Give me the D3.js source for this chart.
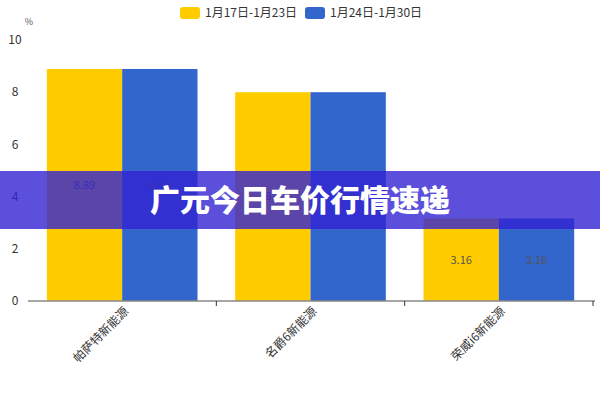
<!DOCTYPE html>
<html><head><meta charset="utf-8">
<script src="https://cdn.jsdelivr.net/npm/d3@7"></script>
<style>body{margin:0;background:#fff;} svg{display:block;font-family:"Noto Sans CJK SC","Noto Sans",sans-serif;}</style>
</head><body>
<svg id="c" width="600" height="400"></svg>
<script>
const categories = ["帕萨特新能源", "名爵6新能源", "荣威i6新能源"];
const seriesNames = ["1月17日-1月23日", "1月24日-1月30日"];
const series1 = [8.89, 8.0, 3.16];
const series2 = [8.89, 8.0, 3.16];
const valueLabels1 = ["8.89", "8.0", "3.16"];
const valueLabels2 = ["8.89", "8.0", "3.16"];
const yTicks = [0, 2, 4, 6, 8, 10];
const colors = ["#FFCC00", "#3366CC"];
const bannerText = "广元今日车价行情速递";

const svg = d3.select("#c");
const m = {l: 28, r: 7, t: 40, b: 99};
const W = 600, H = 400;
const x = d3.scaleBand().domain(categories).range([m.l, W - m.r]).paddingInner(0).paddingOuter(0);
const x1 = d3.scaleBand().domain([0, 1]).range([0, x.bandwidth()]).paddingOuter(0.25).paddingInner(0);
const y = d3.scaleLinear().domain([0, 10]).range([H - m.b, m.t]);

// y labels
svg.append("g").selectAll("text").data(yTicks).join("text")
  .attr("x", 15).attr("y", d => y(d)).attr("dy", "0.35em")
  .attr("text-anchor", "middle").attr("font-size", 12).attr("fill", "#333")
  .text(d => d);
svg.append("text").attr("x", 29).attr("y", 25).attr("font-size", 9).attr("fill", "#555")
  .attr("text-anchor", "middle").text("%");

// bars
const data = categories.map((c, i) => ({c, vals: [series1[i], series2[i]], labs: [valueLabels1[i], valueLabels2[i]]}));
const g = svg.append("g");
data.forEach(d => {
  d.vals.forEach((v, k) => {
    g.append("rect")
      .attr("x", x(d.c) + x1(k)).attr("width", x1.bandwidth())
      .attr("y", y(v)).attr("height", y(0) - y(v))
      .attr("fill", colors[k]);
    g.append("text")
      .attr("x", x(d.c) + x1(k) + x1.bandwidth() / 2)
      .attr("y", y(v / 2)).attr("dy", "0.35em")
      .attr("text-anchor", "middle").attr("font-size", 11).attr("fill", "#555")
      .text(d.labs[k]);
  });
});

// x axis
const xa = svg.append("g").attr("transform", `translate(0,${y(0)})`)
  .call(d3.axisBottom(x).tickSize(0).tickFormat(""));
xa.select(".domain").attr("stroke", "#888").attr("stroke-width", 1.5).attr("d", `M${m.l},0H${W - m.r + 2}`);
const bounds = categories.map(c => x(c) + x.bandwidth());
svg.append("g").selectAll("line").data(bounds).join("line")
  .attr("x1", d => d).attr("x2", d => d).attr("y1", y(0)).attr("y2", y(0) + 5)
  .attr("stroke", "#333").attr("stroke-width", 1);
svg.append("g").selectAll("text").data(categories).join("text")
  .attr("transform", d => `translate(${x(d) + x.bandwidth() / 2 + 4},${y(0) + 8}) rotate(-45)`)
  .attr("text-anchor", "end").attr("dy", "0.35em")
  .attr("font-size", 12).attr("fill", "#333").text(d => d);

// legend
const lg = svg.append("g");
const lx = [180, 305];
seriesNames.forEach((s, k) => {
  lg.append("rect").attr("x", lx[k]).attr("y", 7).attr("width", 20).attr("height", 12)
    .attr("rx", 3).attr("fill", colors[k]);
  lg.append("text").attr("x", lx[k] + 25).attr("y", 13).attr("dy", "0.35em")
    .attr("font-size", 12).attr("fill", "#333").text(s);
});

// banner overlay
svg.append("rect").attr("x", 0).attr("y", 171).attr("width", W).attr("height", 58)
  .attr("fill", "rgb(50,35,210)").attr("opacity", 0.8);
svg.append("text").attr("x", 300).attr("y", 200).attr("dy", "0.36em")
  .attr("text-anchor", "middle").attr("font-size", 30).attr("font-weight", 900)
  .attr("fill", "#fff").text(bannerText);
</script>
</body></html>
